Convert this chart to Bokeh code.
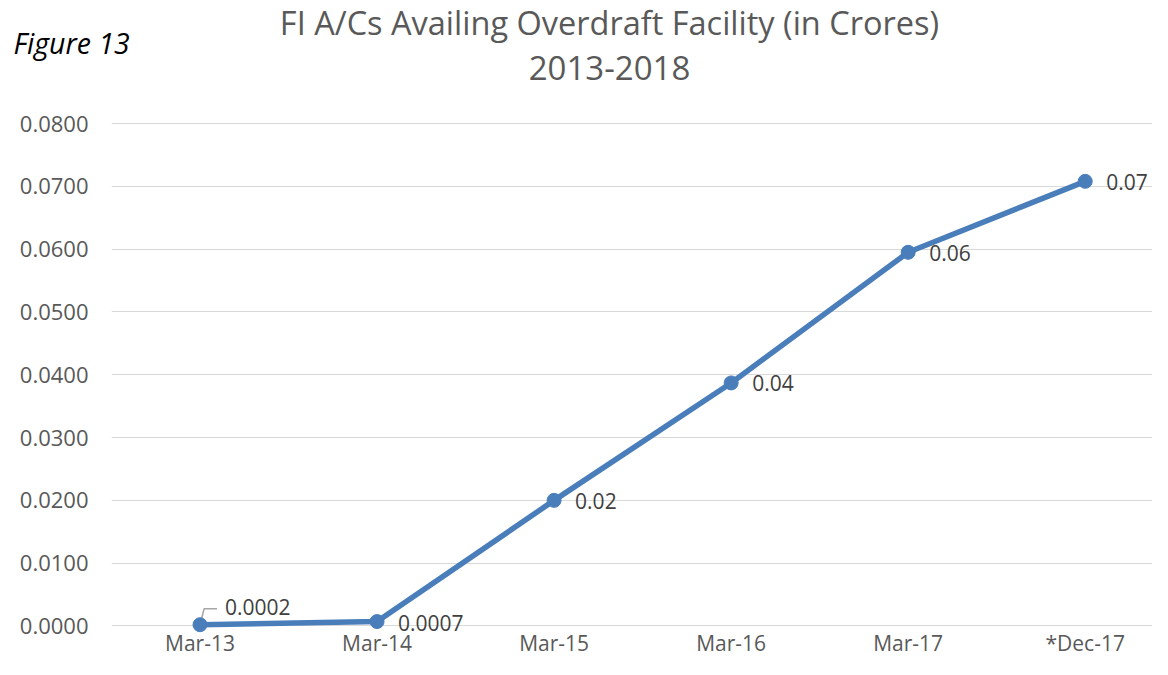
from bokeh.plotting import figure
from bokeh.models import ColumnDataSource, LabelSet, Range1d, NumeralTickFormatter, FixedTicker
from bokeh.embed import file_html
from bokeh.resources import INLINE
from bokeh.core.properties import value

# ---- data ----
categories = ["Mar-13", "Mar-14", "Mar-15", "Mar-16", "Mar-17", "*Dec-17"]
accounts = [0.0002, 0.0007, 0.0200, 0.0387, 0.0595, 0.0708]
point_labels = ["0.0002", "0.0007", "0.02", "0.04", "0.06", "0.07"]
y_ticks = [0.00, 0.01, 0.02, 0.03, 0.04, 0.05, 0.06, 0.07, 0.08]
title_lines = ["FI A/Cs Availing Overdraft Facility (in Crores)", "2013-2018"]
figure_caption = "Figure 13"

# ---- styling ----
FONT = "Open Sans"
BLUE = "#4A7EBB"
GREY = "#595959"
label_dx = [25, 21, 21, 21, 21, 21]
label_dy = [18, -1, -1, 0, -1, -1]

W = 1152
LEFT = 111
TITLE_H = 100
MAIN_H = 559

# ---- title strip (frame covers the whole canvas; units = pixels) ----
t = figure(width=W, height=TITLE_H, output_backend="svg", toolbar_location=None,
           x_range=Range1d(0, W), y_range=Range1d(TITLE_H, 0),
           x_axis_type=None, y_axis_type=None,
           min_border_left=0, min_border_right=0, min_border_top=0, min_border_bottom=0)
t.outline_line_color = None
t.background_fill_color = "white"
t.border_fill_color = "white"
t.text(x=[609], y=[22], text=[title_lines[0]], text_align="center",
       text_baseline="alphabetic", text_font=value(FONT), text_font_size="32.5px",
       text_color=GREY)
t.text(x=[609], y=[67], text=[title_lines[1]], text_align="center",
       text_baseline="alphabetic", text_font=value(FONT), text_font_size="33px",
       text_color=GREY)
t.text(x=[13], y=[42], text=[figure_caption], text_align="left",
       text_baseline="alphabetic", text_font=value(FONT), text_font_size="28.5px",
       text_font_style="italic", text_color="#000000")

# ---- main chart ----
xs = list(range(len(categories)))
src = ColumnDataSource(dict(x=xs, y=accounts, lab=point_labels, dx=label_dx, dy=label_dy))

p = figure(width=W, height=MAIN_H, output_backend="svg", toolbar_location=None,
           x_range=Range1d(-0.5, 5.38), y_range=Range1d(-0.0012, 0.08208),
           min_border_left=LEFT, min_border_right=0, min_border_top=10, min_border_bottom=0)
p.outline_line_color = None
p.background_fill_color = "white"
p.border_fill_color = "white"

p.xgrid.visible = False
p.ygrid.grid_line_color = "#D9D9D9"
p.ygrid.grid_line_width = 1
p.ygrid.ticker = FixedTicker(ticks=y_ticks)

for ax in (p.xaxis, p.yaxis):
    ax.axis_line_color = None
    ax.major_tick_line_color = None
    ax.minor_tick_line_color = None
    ax.major_tick_out = 0
    ax.major_tick_in = 0
    ax.minor_tick_out = 0
    ax.minor_tick_in = 0
    ax.major_label_text_font = FONT
    ax.major_label_text_color = GREY

p.yaxis.ticker = FixedTicker(ticks=y_ticks)
p.yaxis.formatter = NumeralTickFormatter(format="0.0000")
p.yaxis.major_label_standoff = 23
p.yaxis.major_label_text_font_size = "22px"

p.xaxis.ticker = FixedTicker(ticks=xs)
p.xaxis.major_label_overrides = {i: c for i, c in zip(xs, categories)}
p.xaxis.major_label_standoff = -5
p.xaxis.major_label_text_font_size = "21px"

# leader line for the first data label
x0, v0 = xs[0], accounts[0]
p.line([x0, x0 + 0.023, x0 + 0.096], [v0, v0 + 0.00255, v0 + 0.00255],
       line_color="#A6A6A6", line_width=1.5)

# series
p.line("x", "y", source=src, line_color=BLUE, line_width=5.5, line_join="round")
p.scatter("x", "y", source=src, size=14, fill_color=BLUE, line_color=BLUE)

labels = LabelSet(x="x", y="y", text="lab", source=src, x_offset="dx", y_offset="dy",
                  text_baseline="middle", text_align="left",
                  text_font=value(FONT), text_font_size="21px", text_color="#404040")
p.add_layout(labels)

# two independent roots stacked on the page (no frame alignment between them)
open("out.html", "w").write(file_html([t, p], INLINE))
